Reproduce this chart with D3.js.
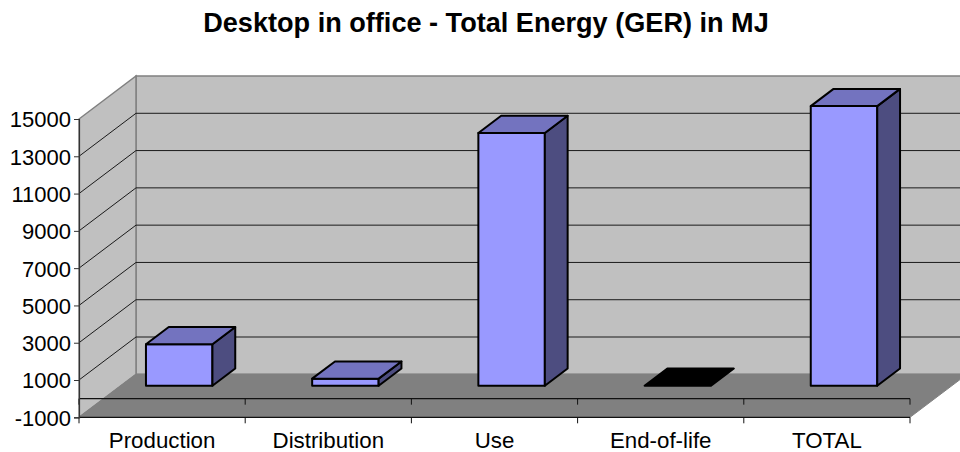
<!DOCTYPE html>
<html><head><meta charset="utf-8">
<script src="https://cdn.jsdelivr.net/npm/d3@7"></script>
<style>html,body{margin:0;padding:0;background:#fff}svg{display:block}text{font-family:"Liberation Sans",Arial,sans-serif;fill:#000}</style>
</head><body><div id="c"></div>
<script>
const categories = ["Production","Distribution","Use","End-of-life","TOTAL"];
const values = [2230,380,13560,0,15000];
const yTicks = [-1000,1000,3000,5000,7000,9000,11000,13000,15000];
const titleText = "Desktop in office - Total Energy (GER) in MJ";

const W=960,H=452;
const svg=d3.select("#c").append("svg").attr("width",W).attr("height",H);
const x=d3.scaleBand().domain(categories).range([79,910]);
const y=d3.scaleLinear().domain([-1000,15000]).range([417.3,119]);
const DX=57,DY=-43;           // full depth of the 3D box
const startD=0.3,endD=0.7;    // bar position within the depth
const pts=a=>a.map(p=>p.join(",")).join(" ");
const grid="#1a1a1a";

svg.append("text").attr("x",486).attr("y",32).attr("text-anchor","middle")
  .attr("font-weight","bold").attr("font-size",27.1).text(titleText);

const y0=y(-1000), yT=y(15000), xL=x.range()[0], xR=x.range()[1];
// walls and floor
svg.append("polygon").attr("points",pts([[xL+DX,yT+DY],[W+2,yT+DY],[W+2,y0+DY],[xL+DX,y0+DY]]))
  .attr("fill","#c0c0c0").attr("stroke","#808080").attr("stroke-width",1.5);
svg.append("polygon").attr("points",pts([[xL,yT],[xL+DX,yT+DY],[xL+DX,y0+DY],[xL,y0]]))
  .attr("fill","#c0c0c0").attr("stroke","#808080").attr("stroke-width",1.5);
// gridlines
yTicks.filter(v=>v>-1000&&v<15000).forEach(v=>{
  svg.append("line").attr("x1",xL).attr("y1",y(v)).attr("x2",xL+DX).attr("y2",y(v)+DY).attr("stroke",grid);
  svg.append("line").attr("x1",xL+DX).attr("y1",y(v)+DY).attr("x2",W).attr("y2",y(v)+DY).attr("stroke",grid);
});
svg.append("polygon").attr("points",pts([[xL,y0],[xL+DX,y0+DY],[xR+DX,y0+DY],[xR,y0]]))
  .attr("fill","#808080").attr("stroke","#808080");

// category axis crossing at zero and at the minimum
const edges=[...categories.map(c=>x(c)),xR];
[[y(0),6],[y0,6]].forEach(([py,len])=>{
  svg.append("line").attr("x1",xL).attr("x2",xR).attr("y1",py).attr("y2",py).attr("stroke","#111").attr("stroke-width",1.2);
  svg.selectAll(null).data(edges).join("line")
    .attr("x1",d=>d).attr("x2",d=>d).attr("y1",py).attr("y2",py+len).attr("stroke","#111");
});

// value axis
const ya=svg.append("g").attr("transform",`translate(${xL},0)`)
  .call(d3.axisLeft(y).tickValues(yTicks).tickFormat(d=>d).tickSize(5).tickPadding(3));
ya.selectAll("text").attr("font-size",22).attr("font-family",'"Liberation Sans",Arial,sans-serif').attr("fill","#000").attr("dy","0.36em");
ya.selectAll("line").attr("stroke","#333");
ya.select(".domain").attr("stroke","#333").attr("stroke-width",1.2);

// category labels
const xa=svg.append("g").attr("transform",`translate(0,430)`).call(d3.axisBottom(x).tickSize(0).tickPadding(2));
xa.select(".domain").remove();
xa.selectAll("text").attr("font-size",22.3).attr("font-family",'"Liberation Sans",Arial,sans-serif').attr("fill","#000");

// bars
const base=y(0)+DY*startD, offX=DX*startD, depX=DX*(endD-startD), depY=DY*(endD-startD);
const bw=x.bandwidth()*0.4, pad=x.bandwidth()*0.3;
const bars=svg.selectAll(".bar").data(categories.map((c,i)=>({c,v:values[i]}))).join("g").attr("class","bar")
  .attr("stroke","#000").attr("stroke-width",2).attr("stroke-linejoin","round");
bars.each(function(d){
  const g=d3.select(this), l=x(d.c)+pad+offX, r=l+bw, b=base, t=base-(y(0)-y(d.v));
  if(d.v>0){
    g.append("polygon").attr("points",pts([[l,b],[r,b],[r,t],[l,t]])).attr("fill","#9999ff");
    g.append("polygon").attr("points",pts([[r,b],[r+depX,b+depY],[r+depX,t+depY],[r,t]])).attr("fill","#4d4d80");
  }
  g.append("polygon").attr("points",pts([[l,t],[r,t],[r+depX,t+depY],[l+depX,t+depY]]))
    .attr("fill",d.v>0?"#7373bf":"#000");
});
</script></body></html>
